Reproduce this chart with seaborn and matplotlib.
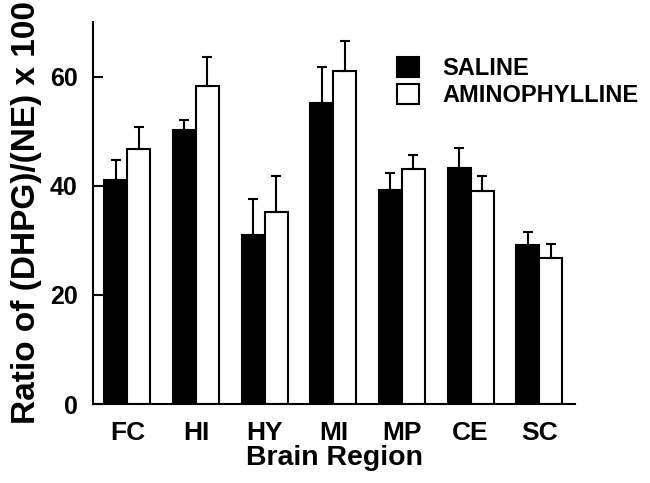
import matplotlib
matplotlib.use("Agg")
import matplotlib.pyplot as plt
import seaborn as sns
import pandas as pd
import numpy as np
from matplotlib.patches import Patch
from matplotlib import font_manager

regions = ["FC", "HI", "HY", "MI", "MP", "CE", "SC"]
groups = ["SALINE", "AMINOPHYLLINE"]
saline = [41.0, 50.2, 31.0, 55.2, 39.3, 43.2, 29.1]
amino = [46.8, 58.2, 35.1, 61.0, 43.1, 39.1, 26.7]
saline_err = [3.8, 1.9, 6.5, 6.5, 3.1, 3.7, 2.5]
amino_err = [4.0, 5.3, 6.6, 5.6, 2.5, 2.7, 2.6]
yticks = [0, 20, 40, 60]

sns.set_style("ticks")
plt.rcParams['font.family'] = ['Liberation Sans', 'DejaVu Sans']
plt.rcParams['font.weight'] = 'bold'
for k in ['text.color', 'axes.labelcolor', 'xtick.color', 'ytick.color', 'axes.edgecolor']:
    plt.rcParams[k] = 'black'

df = pd.DataFrame({
    "region": regions * 2,
    "group": [groups[0]] * len(regions) + [groups[1]] * len(regions),
    "value": saline + amino,
})
errs = {groups[0]: saline_err, groups[1]: amino_err}

fig = plt.figure(figsize=(6.5, 4.83), dpi=100)
ax = fig.add_axes([93/650, 1-404/483, (575-93)/650, (404-22)/483])

sns.barplot(data=df, x="region", y="value", hue="group", order=regions,
            hue_order=groups, palette={groups[0]: "black", groups[1]: "white"},
            edgecolor="black", linewidth=1.5, width=0.67, gap=0,
            errorbar=None, legend=False, ax=ax)

for cont, g in zip(ax.containers, groups):
    xs = [b.get_x() + b.get_width()/2 for b in cont]
    hs = [b.get_height() for b in cont]
    e = errs[g]
    ax.errorbar(xs, hs, yerr=[np.zeros(len(e)), e], fmt='none', ecolor='black',
                elinewidth=1.5, capsize=3.3, capthick=1.5, zorder=1)

ax.set_xlim(-0.5, 6.52)
ax.set_ylim(0, 70)
ax.set_yticks(yticks)
sns.despine(ax=ax)
for s in ["left", "bottom"]:
    ax.spines[s].set_linewidth(1.5)
    ax.spines[s].set_color('black')

narrow = 'Liberation Sans Narrow'
avail = {f.name for f in font_manager.fontManager.ttflist}
yfam = [narrow, 'Liberation Sans', 'DejaVu Sans'] if narrow in avail else ['Liberation Sans', 'DejaVu Sans']
ysize = 20 if narrow in avail else 18

ax.tick_params(axis='y', direction='in', length=7, width=1.5, pad=11, colors='black')
ax.tick_params(axis='x', length=0, pad=12, colors='black')
for lab in ax.get_yticklabels():
    lab.set_fontsize(ysize)
    lab.set_fontweight('bold')
    lab.set_family(yfam)
for lab in ax.get_xticklabels():
    lab.set_fontsize(19)
    lab.set_fontweight('bold')

ax.set_xlabel("Brain Region", fontsize=20.5, fontweight='bold', labelpad=0)
ax.set_ylabel("Ratio of (DHPG)/(NE) x 100", fontsize=24, fontweight='bold', labelpad=6)

handles = [Patch(facecolor='black', edgecolor='black', linewidth=1.5),
           Patch(facecolor='white', edgecolor='black', linewidth=1.5)]
fig.legend(handles, groups, loc='upper left', bbox_to_anchor=(397/650, 1-57/483),
           frameon=False, borderpad=0, borderaxespad=0, handlelength=0.94,
           handleheight=0.94, handletextpad=0.98, labelspacing=0.15,
           prop={'size': 17, 'weight': 'bold'})

fig.savefig("out.png", dpi=100, facecolor='white')
